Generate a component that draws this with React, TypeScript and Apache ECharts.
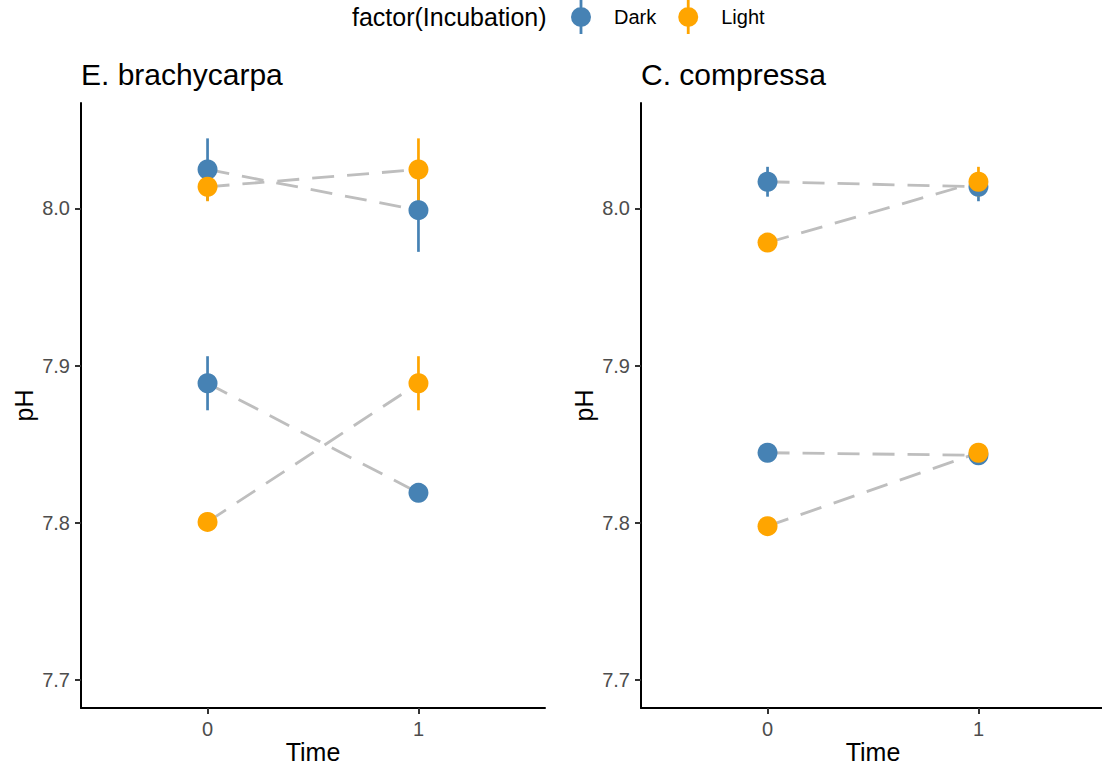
import React, { useEffect, useRef } from "react";
import * as echarts from "echarts";

// ---- data ----
const panelTitles = ["E. brachycarpa", "C. compressa"];
const legendTitle = "factor(Incubation)";
const incubations = ["Dark", "Light"];
const times = [0, 1];
const xTicks = [0, 1];
const yTicks = [7.7, 7.8, 7.9, 8.0];

// E. brachycarpa
const ebDarkMeanA = [8.0248, 7.9989];
const ebDarkSeA = [0.0198, 0.0265];
const ebLightMeanA = [8.0138, 8.0248];
const ebLightSeA = [0.0092, 0.0198];
const ebDarkMeanB = [7.8888, 7.8191];
const ebDarkSeB = [0.0172, 0.0012];
const ebLightMeanB = [7.8006, 7.8888];
const ebLightSeB = [0.0012, 0.0172];

// C. compressa
const ccDarkMeanA = [8.017, 8.0138];
const ccDarkSeA = [0.0095, 0.0092];
const ccLightMeanA = [7.9783, 8.017];
const ccLightSeA = [0.0012, 0.0095];
const ccDarkMeanB = [7.8446, 7.843];
const ccDarkSeB = [0.0012, 0.0012];
const ccLightMeanB = [7.7979, 7.8446];
const ccLightSeB = [0.0012, 0.0012];

// ---- styles ----
const FONT = "'Liberation Sans', Arial, Helvetica, sans-serif";
const COLORS = { Dark: "#4682B4", Light: "#FFA500" };
const LINE_GREY = "#BEBEBE";
const Y_MIN = 7.6822;
const Y_MAX = 8.0671;
const X_MIN = -0.6;
const X_MAX = 1.6;

const LEGEND_ICON =
  "path://M8.6 0H11.4V8H8.6Z M8.6 26H11.4V34H8.6Z M0 17A10 10 0 1 1 20 17A10 10 0 1 1 0 17Z";

type Run = { mean: number[]; se: number[] };

const panelData: { Dark: Run[]; Light: Run[] }[] = [
  {
    Dark: [
      { mean: ebDarkMeanA, se: ebDarkSeA },
      { mean: ebDarkMeanB, se: ebDarkSeB },
    ],
    Light: [
      { mean: ebLightMeanA, se: ebLightSeA },
      { mean: ebLightMeanB, se: ebLightSeB },
    ],
  },
  {
    Dark: [
      { mean: ccDarkMeanA, se: ccDarkSeA },
      { mean: ccDarkMeanB, se: ccDarkSeB },
    ],
    Light: [
      { mean: ccLightMeanA, se: ccLightSeA },
      { mean: ccLightMeanB, se: ccLightSeB },
    ],
  },
];

function buildOption() {
  const grids = [
    { left: 81, top: 103, width: 464, height: 605, outerBoundsMode: "none", containLabel: false },
    { left: 641, top: 103, width: 464, height: 605, outerBoundsMode: "none", containLabel: false },
  ];

  const xAxes = grids.map((_, i) => ({
    type: "value",
    gridIndex: i,
    min: X_MIN,
    max: X_MAX,
    name: "Time",
    nameLocation: "middle",
    nameGap: 31,
    nameMoveOverlap: false,
    nameTextStyle: {
      fontFamily: FONT,
      fontSize: 25,
      color: "#000",
      lineHeight: 25,
      verticalAlign: "top",
    },
    axisLine: { show: true, onZero: false, lineStyle: { color: "#000", width: 2 } },
    axisTick: {
      show: true,
      length: 6,
      customValues: xTicks,
      lineStyle: { color: "#333", width: 2 },
    },
    axisLabel: {
      show: true,
      customValues: xTicks,
      margin: 11,
      fontFamily: FONT,
      fontSize: 20,
      color: "#4D4D4D",
      formatter: (v: number) => String(v),
    },
    splitLine: { show: false },
  }));

  const yAxes = grids.map((_, i) => ({
    type: "value",
    gridIndex: i,
    min: Y_MIN,
    max: Y_MAX,
    name: "pH",
    nameLocation: "middle",
    nameGap: 45,
    nameMoveOverlap: false,
    nameTextStyle: { fontFamily: FONT, fontSize: 25, color: "#000" },
    axisLine: { show: true, onZero: false, lineStyle: { color: "#000", width: 2 } },
    axisTick: {
      show: true,
      length: 6,
      customValues: yTicks,
      lineStyle: { color: "#333", width: 2 },
    },
    axisLabel: {
      show: true,
      customValues: yTicks,
      margin: 11,
      fontFamily: FONT,
      fontSize: 20,
      color: "#4D4D4D",
      formatter: (v: number) => v.toFixed(1),
    },
    splitLine: { show: false },
  }));

  const series: any[] = [];
  panelData.forEach((pd, p) => {
    // dashed connector lines
    incubations.forEach((inc) => {
      (pd as any)[inc].forEach((run: Run, r: number) => {
        series.push({
          type: "line",
          name: `${inc} line ${p}-${r}`,
          xAxisIndex: p,
          yAxisIndex: p,
          z: 1,
          data: times.map((t, i) => [t, run.mean[i]]),
          symbol: "none",
          silent: true,
          lineStyle: { color: LINE_GREY, width: 2.8, type: [22, 13] },
        });
      });
    });
    // error bars
    incubations.forEach((inc, k) => {
      const data: number[][] = [];
      (pd as any)[inc].forEach((run: Run) => {
        times.forEach((t, i) => {
          data.push([t, run.mean[i] - run.se[i], run.mean[i] + run.se[i]]);
        });
      });
      series.push({
        type: "custom",
        name: `${inc} error ${p}`,
        xAxisIndex: p,
        yAxisIndex: p,
        z: 2 + k,
        data,
        encode: { x: 0, y: [1, 2] },
        silent: true,
        renderItem: (params: any, api: any) => {
          const a = api.coord([api.value(0), api.value(1)]);
          const b = api.coord([api.value(0), api.value(2)]);
          return {
            type: "line",
            shape: { x1: a[0], y1: a[1], x2: b[0], y2: b[1] },
            style: { stroke: (COLORS as any)[inc], lineWidth: 2.7 },
          };
        },
      });
    });
    // points
    incubations.forEach((inc, k) => {
      const data: number[][] = [];
      (pd as any)[inc].forEach((run: Run) => {
        times.forEach((t, i) => data.push([t, run.mean[i]]));
      });
      series.push({
        type: "scatter",
        name: inc,
        xAxisIndex: p,
        yAxisIndex: p,
        z: 4 + k,
        data,
        symbol: "circle",
        symbolSize: 20,
        itemStyle: { color: (COLORS as any)[inc], opacity: 1 },
      });
    });
  });

  return {
    animation: false,
    backgroundColor: "#FFFFFF",
    textStyle: { fontFamily: FONT },
    title: [
      {
        text: legendTitle,
        left: 352,
        top: 4,
        padding: 0,
        textStyle: { fontFamily: FONT, fontSize: 25, fontWeight: "normal", color: "#000" },
      },
      {
        text: panelTitles[0],
        left: 81,
        top: 59,
        padding: 0,
        textStyle: { fontFamily: FONT, fontSize: 30, fontWeight: "normal", color: "#000" },
      },
      {
        text: panelTitles[1],
        left: 641,
        top: 59,
        padding: 0,
        textStyle: { fontFamily: FONT, fontSize: 30, fontWeight: "normal", color: "#000" },
      },
    ],
    legend: {
      data: incubations,
      left: 571,
      top: 0,
      padding: 0,
      itemWidth: 20,
      itemHeight: 34,
      itemGap: 22,
      icon: LEGEND_ICON,
      selectedMode: false,
      textStyle: {
        fontFamily: FONT,
        fontSize: 20,
        color: "#000",
        padding: [0, 0, 0, 18],
      },
    },
    grid: grids,
    xAxis: xAxes,
    yAxis: yAxes,
    series,
  };
}

export default function App() {
  const ref = useRef<HTMLDivElement>(null);
  useEffect(() => {
    document.body.style.margin = "0";
    if (!ref.current) return;
    const chart = echarts.init(ref.current, undefined, { renderer: "svg" });
    chart.setOption(buildOption() as any);
    return () => chart.dispose();
  }, []);
  return <div ref={ref} style={{ width: 1102, height: 768 }} />;
}
